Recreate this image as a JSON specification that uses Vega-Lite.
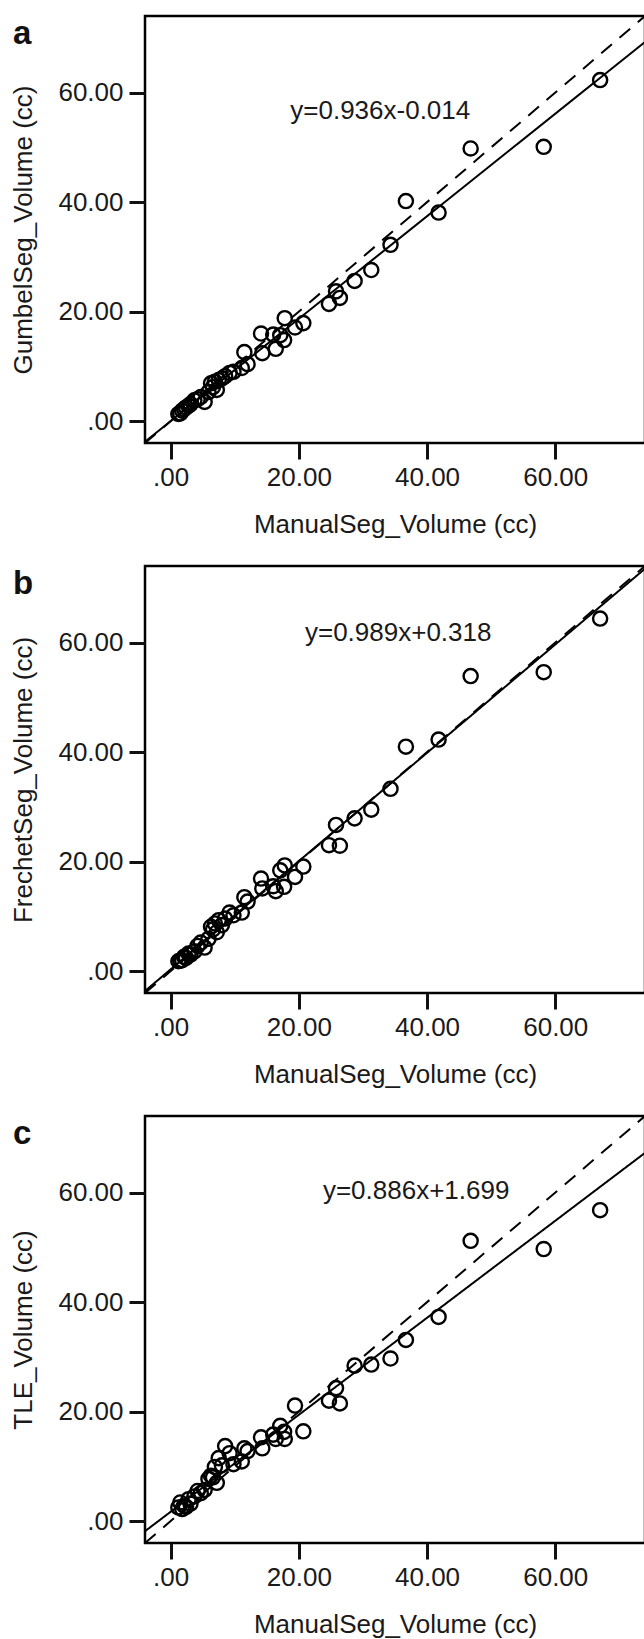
{
  "$schema": "https://vega.github.io/schema/vega-lite/v6.json",
  "padding": {"left": 9, "top": 14, "right": 0, "bottom": 0},
  "spacing": 25,
  "datasets": {
    "pts": [
      {"panel":"a","manual":67.0,"seg":62.3},{"panel":"a","manual":58.2,"seg":50.1},{"panel":"a","manual":46.8,"seg":49.8},{"panel":"a","manual":36.7,"seg":40.2},{"panel":"a","manual":41.8,"seg":38.1},{"panel":"a","manual":34.3,"seg":32.2},{"panel":"a","manual":31.3,"seg":27.6},{"panel":"a","manual":28.7,"seg":25.6},{"panel":"a","manual":25.8,"seg":23.7},{"panel":"a","manual":26.4,"seg":22.5},{"panel":"a","manual":24.7,"seg":21.4},{"panel":"a","manual":20.7,"seg":17.9},{"panel":"a","manual":19.4,"seg":17.1},{"panel":"a","manual":17.8,"seg":18.8},{"panel":"a","manual":17.7,"seg":14.8},{"panel":"a","manual":16.4,"seg":13.2},{"panel":"a","manual":17.1,"seg":15.7},{"panel":"a","manual":14.1,"seg":16.0},{"panel":"a","manual":14.3,"seg":12.4},{"panel":"a","manual":16.0,"seg":15.8},{"panel":"a","manual":11.5,"seg":12.6},{"panel":"a","manual":12.0,"seg":10.4},{"panel":"a","manual":11.1,"seg":9.7},{"panel":"a","manual":9.2,"seg":8.8},{"panel":"a","manual":8.5,"seg":8.2},{"panel":"a","manual":7.5,"seg":7.5},{"panel":"a","manual":6.9,"seg":7.2},{"panel":"a","manual":6.3,"seg":6.9},{"panel":"a","manual":7.2,"seg":5.7},{"panel":"a","manual":5.9,"seg":5.3},{"panel":"a","manual":5.3,"seg":3.5},{"panel":"a","manual":4.7,"seg":4.4},{"panel":"a","manual":3.7,"seg":3.8},{"panel":"a","manual":3.1,"seg":3.1},{"panel":"a","manual":2.4,"seg":2.5},{"panel":"a","manual":1.8,"seg":1.9},{"panel":"a","manual":1.5,"seg":1.4},{"panel":"a","manual":1.2,"seg":1.3},{"panel":"a","manual":2.1,"seg":2.2},{"panel":"a","manual":2.8,"seg":2.8},{"panel":"a","manual":6.6,"seg":6.2},{"panel":"a","manual":8.0,"seg":7.8},{"panel":"a","manual":4.2,"seg":4.0},{"panel":"a","manual":9.8,"seg":9.0},
      {"panel":"b","manual":67.0,"seg":64.4},{"panel":"b","manual":58.2,"seg":54.6},{"panel":"b","manual":46.8,"seg":53.9},{"panel":"b","manual":36.7,"seg":41.0},{"panel":"b","manual":41.8,"seg":42.3},{"panel":"b","manual":34.3,"seg":33.3},{"panel":"b","manual":31.3,"seg":29.5},{"panel":"b","manual":28.7,"seg":27.9},{"panel":"b","manual":25.8,"seg":26.7},{"panel":"b","manual":26.4,"seg":22.9},{"panel":"b","manual":24.7,"seg":23.0},{"panel":"b","manual":20.7,"seg":19.1},{"panel":"b","manual":19.4,"seg":17.2},{"panel":"b","manual":17.8,"seg":19.3},{"panel":"b","manual":17.7,"seg":15.4},{"panel":"b","manual":16.4,"seg":14.6},{"panel":"b","manual":17.1,"seg":18.4},{"panel":"b","manual":14.1,"seg":16.9},{"panel":"b","manual":14.3,"seg":15.1},{"panel":"b","manual":16.0,"seg":15.5},{"panel":"b","manual":11.5,"seg":13.5},{"panel":"b","manual":12.0,"seg":12.7},{"panel":"b","manual":11.1,"seg":10.7},{"panel":"b","manual":9.2,"seg":10.7},{"panel":"b","manual":8.5,"seg":9.6},{"panel":"b","manual":7.5,"seg":9.3},{"panel":"b","manual":6.9,"seg":8.7},{"panel":"b","manual":6.3,"seg":8.1},{"panel":"b","manual":7.2,"seg":7.1},{"panel":"b","manual":5.9,"seg":5.9},{"panel":"b","manual":5.3,"seg":4.3},{"panel":"b","manual":4.7,"seg":5.2},{"panel":"b","manual":3.7,"seg":3.6},{"panel":"b","manual":3.1,"seg":3.0},{"panel":"b","manual":2.4,"seg":2.4},{"panel":"b","manual":1.8,"seg":2.0},{"panel":"b","manual":1.5,"seg":1.9},{"panel":"b","manual":1.2,"seg":1.8},{"panel":"b","manual":2.1,"seg":2.6},{"panel":"b","manual":2.8,"seg":3.2},{"panel":"b","manual":6.6,"seg":7.6},{"panel":"b","manual":8.0,"seg":8.4},{"panel":"b","manual":4.2,"seg":4.6},{"panel":"b","manual":9.8,"seg":10.2},
      {"panel":"c","manual":67.0,"seg":56.8},{"panel":"c","manual":58.2,"seg":49.7},{"panel":"c","manual":46.8,"seg":51.2},{"panel":"c","manual":36.7,"seg":33.1},{"panel":"c","manual":41.8,"seg":37.3},{"panel":"c","manual":34.3,"seg":29.7},{"panel":"c","manual":31.3,"seg":28.6},{"panel":"c","manual":28.7,"seg":28.4},{"panel":"c","manual":25.8,"seg":24.3},{"panel":"c","manual":26.4,"seg":21.5},{"panel":"c","manual":24.7,"seg":22.0},{"panel":"c","manual":20.7,"seg":16.4},{"panel":"c","manual":19.4,"seg":21.1},{"panel":"c","manual":17.8,"seg":15.0},{"panel":"c","manual":17.7,"seg":16.3},{"panel":"c","manual":16.4,"seg":15.0},{"panel":"c","manual":17.1,"seg":17.4},{"panel":"c","manual":14.1,"seg":15.3},{"panel":"c","manual":14.3,"seg":13.3},{"panel":"c","manual":16.0,"seg":15.8},{"panel":"c","manual":11.5,"seg":13.3},{"panel":"c","manual":12.0,"seg":12.8},{"panel":"c","manual":11.1,"seg":10.9},{"panel":"c","manual":9.2,"seg":12.4},{"panel":"c","manual":8.5,"seg":13.7},{"panel":"c","manual":7.5,"seg":11.5},{"panel":"c","manual":6.9,"seg":9.9},{"panel":"c","manual":6.3,"seg":8.3},{"panel":"c","manual":7.2,"seg":7.0},{"panel":"c","manual":5.9,"seg":7.7},{"panel":"c","manual":5.3,"seg":5.7},{"panel":"c","manual":4.7,"seg":5.1},{"panel":"c","manual":3.7,"seg":4.5},{"panel":"c","manual":3.1,"seg":3.2},{"panel":"c","manual":2.4,"seg":2.6},{"panel":"c","manual":1.8,"seg":2.2},{"panel":"c","manual":1.5,"seg":3.4},{"panel":"c","manual":1.2,"seg":2.5},{"panel":"c","manual":2.1,"seg":2.8},{"panel":"c","manual":2.8,"seg":4.0},{"panel":"c","manual":6.6,"seg":8.0},{"panel":"c","manual":8.0,"seg":10.2},{"panel":"c","manual":4.2,"seg":5.5},{"panel":"c","manual":9.8,"seg":10.4}
    ],
    "lines": [
      {"panel":"a","kind":"fit","x":-4,"y":-3.758},{"panel":"a","kind":"fit","x":74,"y":69.25},
      {"panel":"a","kind":"identity","x":-4,"y":-4},{"panel":"a","kind":"identity","x":74,"y":74},
      {"panel":"b","kind":"fit","x":-4,"y":-3.638},{"panel":"b","kind":"fit","x":74,"y":73.504},
      {"panel":"b","kind":"identity","x":-4,"y":-4},{"panel":"b","kind":"identity","x":74,"y":74},
      {"panel":"c","kind":"fit","x":-4,"y":-1.845},{"panel":"c","kind":"fit","x":74,"y":67.263},
      {"panel":"c","kind":"identity","x":-4,"y":-4},{"panel":"c","kind":"identity","x":74,"y":74}
    ],
    "notes": [
      {"panel":"a","tag":"a","eq":"y=0.936x-0.014"},
      {"panel":"b","tag":"b","eq":"y=0.989x+0.318"},
      {"panel":"c","tag":"c","eq":"y=0.886x+1.699"}
    ]
  },
  "vconcat": [
    {
      "width": 500, "height": 427,
      "layer": [
        {"data": {"name": "lines"}, "transform": [{"filter": "datum.panel == 'a'"}],
         "mark": {"type": "line", "color": "black", "strokeWidth": 2, "clip": true},
         "encoding": {
           "x": {"field": "x", "type": "quantitative", "scale": {"domain": [-4, 74], "nice": false, "zero": false}, "axis": {"title": "ManualSeg_Volume (cc)", "values": [0, 20, 40, 60]}},
           "y": {"field": "y", "type": "quantitative", "scale": {"domain": [-4, 74], "nice": false, "zero": false}, "axis": {"title": "GumbelSeg_Volume (cc)", "values": [0, 20, 40, 60]}},
           "detail": {"field": "kind"},
           "strokeDash": {"field": "kind", "type": "nominal", "scale": {"domain": ["fit", "identity"], "range": [[1, 0], [14, 10]]}, "legend": null}
         }},
        {"data": {"name": "pts"}, "transform": [{"filter": "datum.panel == 'a'"}],
         "mark": {"type": "point", "shape": "circle", "filled": false, "stroke": "black", "strokeWidth": 2.4, "size": 200, "opacity": 1, "clip": true},
         "encoding": {"x": {"field": "manual", "type": "quantitative"}, "y": {"field": "seg", "type": "quantitative"}}},
        {"data": {"name": "notes"}, "transform": [{"filter": "datum.panel == 'a'"}],
         "mark": {"type": "text", "fontSize": 26, "font": "Liberation Sans", "color": "#1a1a1a", "align": "center", "baseline": "middle"},
         "encoding": {"x": {"datum": 32.7, "type": "quantitative"}, "y": {"datum": 56.6, "type": "quantitative"}, "text": {"field": "eq"}}},
        {"data": {"name": "notes"}, "transform": [{"filter": "datum.panel == 'a'"}],
         "mark": {"type": "text", "fontSize": 33, "fontWeight": "bold", "font": "Liberation Sans", "color": "#111", "align": "left", "baseline": "alphabetic", "clip": false},
         "encoding": {"x": {"datum": -24.6, "type": "quantitative"}, "y": {"datum": 68.9, "type": "quantitative"}, "text": {"field": "tag"}}}
      ]
    },
    {
      "width": 500, "height": 427,
      "layer": [
        {"data": {"name": "lines"}, "transform": [{"filter": "datum.panel == 'b'"}],
         "mark": {"type": "line", "color": "black", "strokeWidth": 2, "clip": true},
         "encoding": {
           "x": {"field": "x", "type": "quantitative", "scale": {"domain": [-4, 74], "nice": false, "zero": false}, "axis": {"title": "ManualSeg_Volume (cc)", "values": [0, 20, 40, 60]}},
           "y": {"field": "y", "type": "quantitative", "scale": {"domain": [-4, 74], "nice": false, "zero": false}, "axis": {"title": "FrechetSeg_Volume (cc)", "values": [0, 20, 40, 60]}},
           "detail": {"field": "kind"},
           "strokeDash": {"field": "kind", "type": "nominal", "scale": {"domain": ["fit", "identity"], "range": [[1, 0], [14, 10]]}, "legend": null}
         }},
        {"data": {"name": "pts"}, "transform": [{"filter": "datum.panel == 'b'"}],
         "mark": {"type": "point", "shape": "circle", "filled": false, "stroke": "black", "strokeWidth": 2.4, "size": 200, "opacity": 1, "clip": true},
         "encoding": {"x": {"field": "manual", "type": "quantitative"}, "y": {"field": "seg", "type": "quantitative"}}},
        {"data": {"name": "notes"}, "transform": [{"filter": "datum.panel == 'b'"}],
         "mark": {"type": "text", "fontSize": 26, "font": "Liberation Sans", "color": "#1a1a1a", "align": "center", "baseline": "middle"},
         "encoding": {"x": {"datum": 35.5, "type": "quantitative"}, "y": {"datum": 61.7, "type": "quantitative"}, "text": {"field": "eq"}}},
        {"data": {"name": "notes"}, "transform": [{"filter": "datum.panel == 'b'"}],
         "mark": {"type": "text", "fontSize": 33, "fontWeight": "bold", "font": "Liberation Sans", "color": "#111", "align": "left", "baseline": "alphabetic", "clip": false},
         "encoding": {"x": {"datum": -24.6, "type": "quantitative"}, "y": {"datum": 68.9, "type": "quantitative"}, "text": {"field": "tag"}}}
      ]
    },
    {
      "width": 500, "height": 427,
      "layer": [
        {"data": {"name": "lines"}, "transform": [{"filter": "datum.panel == 'c'"}],
         "mark": {"type": "line", "color": "black", "strokeWidth": 2, "clip": true},
         "encoding": {
           "x": {"field": "x", "type": "quantitative", "scale": {"domain": [-4, 74], "nice": false, "zero": false}, "axis": {"title": "ManualSeg_Volume (cc)", "values": [0, 20, 40, 60]}},
           "y": {"field": "y", "type": "quantitative", "scale": {"domain": [-4, 74], "nice": false, "zero": false}, "axis": {"title": "TLE_Volume (cc)", "values": [0, 20, 40, 60]}},
           "detail": {"field": "kind"},
           "strokeDash": {"field": "kind", "type": "nominal", "scale": {"domain": ["fit", "identity"], "range": [[1, 0], [14, 10]]}, "legend": null}
         }},
        {"data": {"name": "pts"}, "transform": [{"filter": "datum.panel == 'c'"}],
         "mark": {"type": "point", "shape": "circle", "filled": false, "stroke": "black", "strokeWidth": 2.4, "size": 200, "opacity": 1, "clip": true},
         "encoding": {"x": {"field": "manual", "type": "quantitative"}, "y": {"field": "seg", "type": "quantitative"}}},
        {"data": {"name": "notes"}, "transform": [{"filter": "datum.panel == 'c'"}],
         "mark": {"type": "text", "fontSize": 26, "font": "Liberation Sans", "color": "#1a1a1a", "align": "center", "baseline": "middle"},
         "encoding": {"x": {"datum": 38.3, "type": "quantitative"}, "y": {"datum": 60.3, "type": "quantitative"}, "text": {"field": "eq"}}},
        {"data": {"name": "notes"}, "transform": [{"filter": "datum.panel == 'c'"}],
         "mark": {"type": "text", "fontSize": 33, "fontWeight": "bold", "font": "Liberation Sans", "color": "#111", "align": "left", "baseline": "alphabetic", "clip": false},
         "encoding": {"x": {"datum": -24.6, "type": "quantitative"}, "y": {"datum": 68.9, "type": "quantitative"}, "text": {"field": "tag"}}}
      ]
    }
  ],
  "config": {
    "view": {"stroke": "black", "strokeWidth": 2.5, "fill": "white"},
    "background": "white",
    "axis": {
      "labelExpr": "datum.value == 0 ? '.00' : format(datum.value, '.2f')",
      "labelFont": "Liberation Sans", "labelFontSize": 26, "labelColor": "#1a1a1a",
      "titleFont": "Liberation Sans", "titleFontSize": 26, "titleFontWeight": "normal", "titleColor": "#1a1a1a",
      "grid": false, "domain": false, "tickSize": 16, "tickWidth": 3, "tickColor": "#111",
      "labelOverlap": false, "labelFlush": false
    },
    "axisX": {"labelPadding": 5, "titlePadding": 21},
    "axisY": {"labelPadding": 6, "titlePadding": 21}
  }
}
